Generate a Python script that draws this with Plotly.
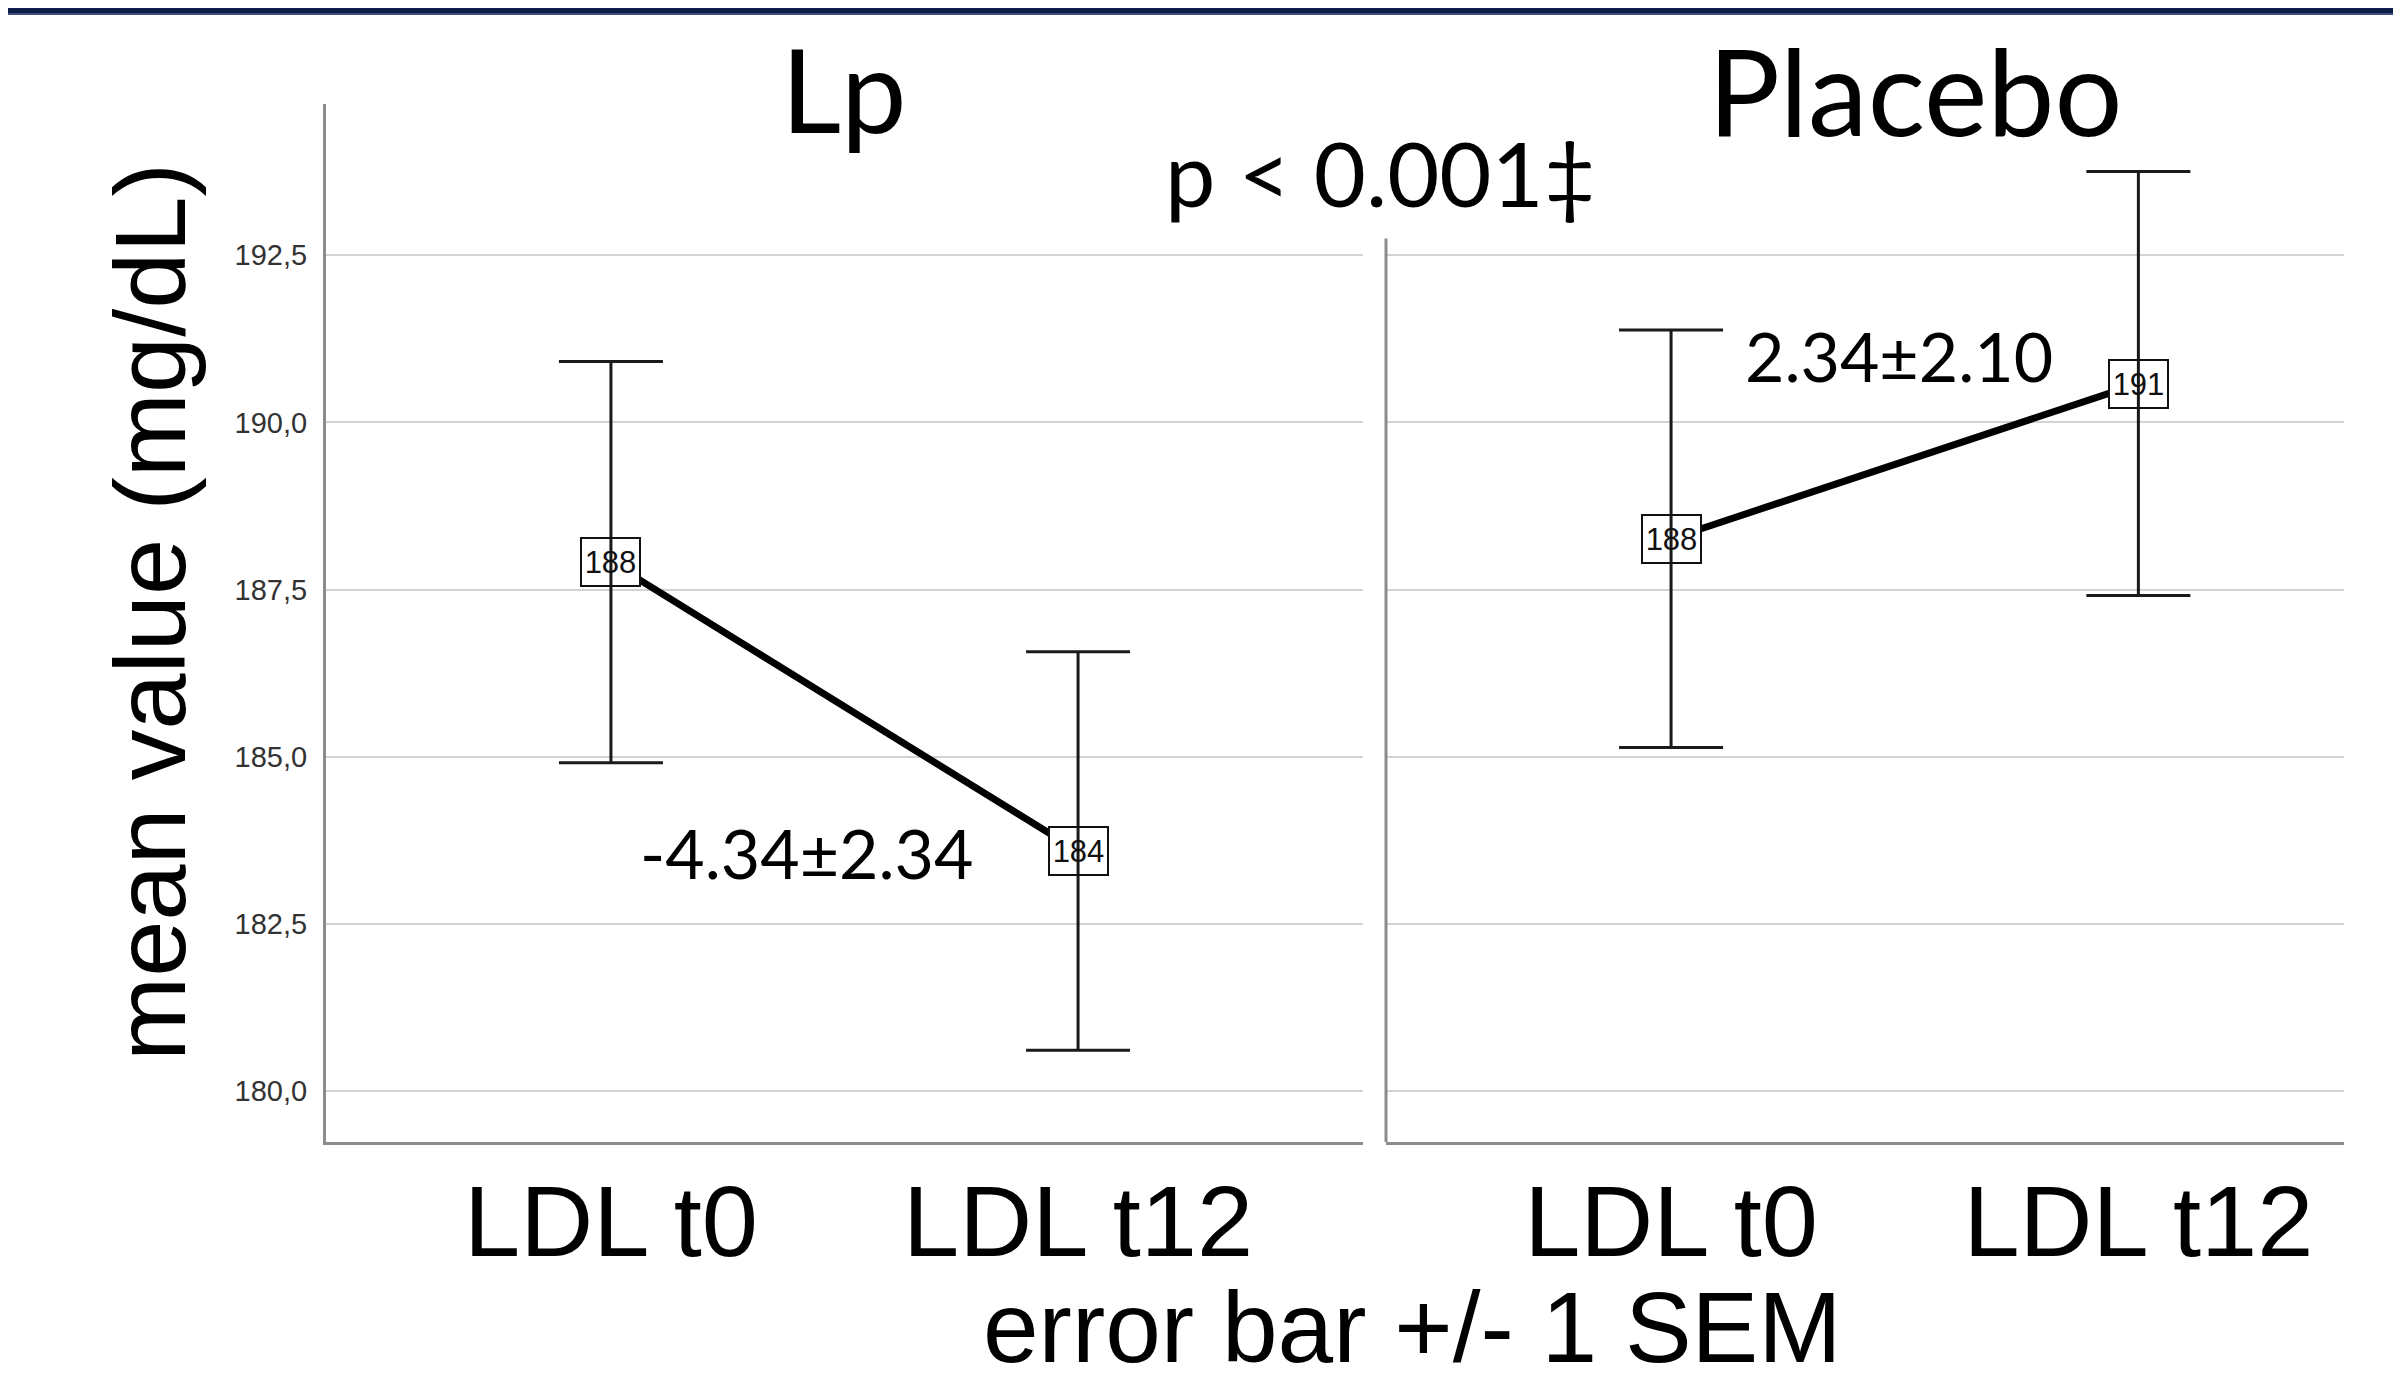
import plotly.graph_objects as go

# ---------------- data ----------------
categories = ["LDL t0", "LDL t12"]
groups = ["Lp", "Placebo"]
lp_mean = [187.91, 183.59]
lp_sem = [3.00, 2.98]
placebo_mean = [188.26, 190.58]
placebo_sem = [3.12, 3.17]
change_labels = ["-4.34±2.34", "2.34±2.10"]
p_label = "p < 0.001‡"
y_tickvals = [180.0, 182.5, 185.0, 187.5, 190.0, 192.5]
y_ticktext = ["180,0", "182,5", "185,0", "187,5", "190,0", "192,5"]
y_range = [179.24, 194.76]
right_axis_top = 192.75

# ---------------- layout helpers ----------------
W, H = 2401, 1383
OFF = 8  # page body margin


def px(x):
    return (x - OFF) / W


def py(y):
    return 1 - (y - OFF) / H


GRID = "#d3d3d3"
AXIS = "#8c8c8c"
ERR = "#1a1a1a"
SANS = "Liberation Sans, Arial, sans-serif"
NARROW = "Liberation Sans Narrow, Arial Narrow, Liberation Sans, sans-serif"
TITLEF = "Lato, Open Sans, sans-serif"

fig = go.Figure()

panels = [
    (lp_mean, lp_sem, "x", "y"),
    (placebo_mean, placebo_sem, "x2", "y2"),
]

for means, sems, xa, ya in panels:
    idx = list(range(len(categories)))
    # connecting line
    fig.add_trace(go.Scatter(
        x=idx, y=means, mode="lines", xaxis=xa, yaxis=ya,
        line=dict(color="black", width=7), showlegend=False, hoverinfo="skip"))
    # white rectangle behind labels (hides the connecting line inside the box)
    fig.add_trace(go.Scatter(
        x=idx, y=means, mode="markers", xaxis=xa, yaxis=ya,
        marker=dict(symbol="line-ew", size=42, color="white",
                    line=dict(color="white", width=48)),
        showlegend=False, hoverinfo="skip"))
    # error bars +/- 1 SEM
    fig.add_trace(go.Scatter(
        x=idx, y=means, mode="markers", xaxis=xa, yaxis=ya,
        marker=dict(size=1, color="rgba(0,0,0,0)"), cliponaxis=False,
        error_y=dict(type="data", array=sems, visible=True,
                     color=ERR, thickness=3, width=52),
        showlegend=False, hoverinfo="skip"))
    # boxed mean labels
    for i, m in zip(idx, means):
        fig.add_annotation(
            x=i, y=m, xref=xa, yref=ya, text=f"{m:.0f}", showarrow=False,
            font=dict(family=NARROW, size=31, color="#111111"),
            bordercolor="#111111", borderwidth=2, borderpad=0,
            width=57, height=46, bgcolor="rgba(0,0,0,0)")

axis_common = dict(
    showgrid=False, zeroline=False, showline=True, linecolor=AXIS, linewidth=3,
    ticks="", type="category", tickmode="array",
    tickvals=[0, 1], ticktext=categories,
    tickfont=dict(family=SANS, size=101, color="black"),
    ticklabelstandoff=-10,
)

yaxis_common = dict(
    showgrid=True, gridcolor=GRID, gridwidth=2, zeroline=False,
    linecolor=AXIS, linewidth=3, ticks="",
    tickmode="array", tickvals=y_tickvals, ticktext=y_ticktext,
    tickfont=dict(family=SANS, size=29, color="#333333"),
    ticklabelstandoff=10, range=y_range,
)

fig.update_layout(
    width=W, height=H,
    margin=dict(l=0, r=0, t=0, b=0),
    paper_bgcolor="white", plot_bgcolor="white",
    showlegend=False,
    xaxis=dict(domain=[px(326), px(1363)], range=[-0.61, 1.61], anchor="y",
               **axis_common),
    xaxis2=dict(domain=[px(1386), px(2344)], range=[-0.61, 1.44], anchor="y2",
                **axis_common),
    yaxis=dict(domain=[py(1142), py(104)], anchor="x",
               showline=True, showticklabels=True, **yaxis_common),
    yaxis2=dict(domain=[py(1142), py(104)], anchor="x2",
                showline=False, showticklabels=False, **yaxis_common),
)

# right panel y axis line (shorter than the left one)
fig.add_shape(type="line", xref="x2 domain", yref="y2", x0=0, x1=0,
              y0=y_range[0], y1=right_axis_top,
              line=dict(color=AXIS, width=3), layer="above")

# top banner
fig.add_shape(type="rect", xref="paper", yref="paper", x0=0, x1=1,
              y0=py(14), y1=1, fillcolor="#0e1b4b", line=dict(width=0), layer="above")
fig.add_shape(type="rect", xref="paper", yref="paper", x0=0, x1=1,
              y0=py(15), y1=py(13), fillcolor="#3d4c74", line=dict(width=0), layer="above")

# texts
texts = [
    (groups[0], 844, 88, TITLEF, 117, 0),
    (groups[1], 1915, 90, TITLEF, 120, 0),
    (p_label, 1380, 172, TITLEF, 90, 0),
    (change_labels[1], 1899, 356, TITLEF, 68, 0),
    (change_labels[0], 806, 852, TITLEF, 68, 0),
    ("error bar +/- 1 SEM", 1412, 1327, SANS, 100, 0),
    ("mean value (mg/dL)", 150, 612, SANS, 101, -90),
]
for t, x, y, fam, size, ang in texts:
    fig.add_annotation(x=px(x), y=py(y), xref="paper", yref="paper", text=t,
                       showarrow=False, textangle=ang,
                       xanchor="center", yanchor="middle",
                       font=dict(family=fam, size=size, color="black"))

fig.write_html("out.html")
